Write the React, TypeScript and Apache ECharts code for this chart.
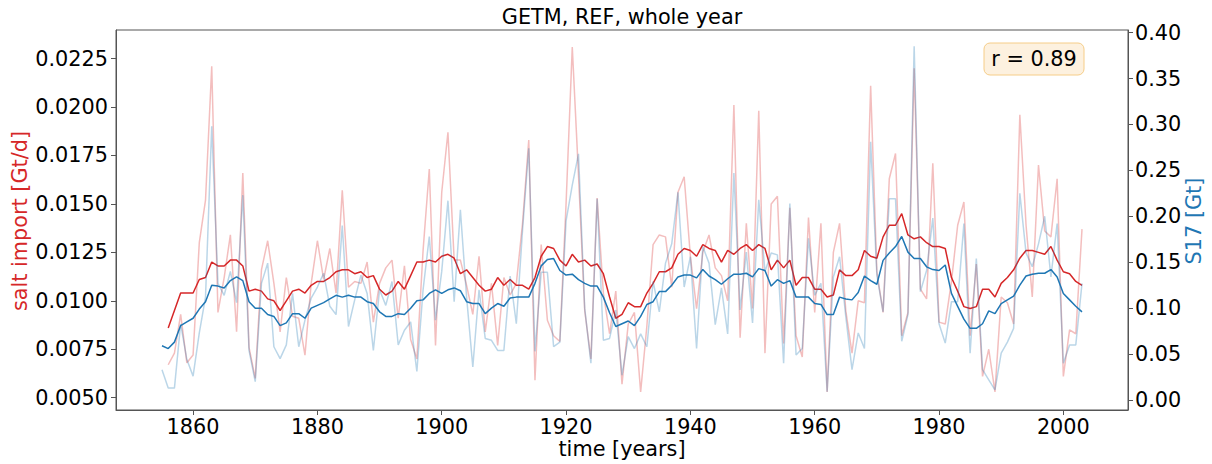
import React, { useEffect, useRef } from "react";
import * as echarts from "echarts";

const START_YEAR = 1855;

// annual salt import [Gt/d] (left axis), starts 1856
const saltImportAnnual: (number | null)[] = [
  null, 0.0067, 0.0073, 0.0093, 0.0068, 0.0072, 0.0130, 0.0152, 0.0221, 0.0094,
  0.0112, 0.0134, 0.0084, 0.0166, 0.0076, 0.0060, 0.0116, 0.0131, 0.0109, 0.0084,
  0.0112, 0.0092, 0.0091, 0.0072, 0.0109, 0.0131, 0.0111, 0.0127, 0.0104, 0.0157,
  0.0107, 0.0110, 0.0109, 0.0120, 0.0089, 0.0109, 0.0117, 0.0121, 0.0091, 0.0118,
  0.0080, 0.0070, 0.0126, 0.0168, 0.0077, 0.0156, 0.0187, 0.0121, 0.0121, 0.0108,
  0.0093, 0.0123, 0.0084, 0.0109, 0.0077, 0.0112, 0.0103, 0.0109, 0.0140, 0.0183,
  0.0059, 0.0129, 0.0090, 0.0082, 0.0079, 0.0150, 0.0231, 0.0165, 0.0095, 0.0070,
  0.0153, 0.0104, 0.0083, 0.0105, 0.0057, 0.0088, 0.0094, 0.0053, 0.0087, 0.0129,
  0.0134, 0.0133, 0.0107, 0.0156, 0.0164, 0.0123, 0.0096, 0.0125, 0.0134, 0.0117,
  0.0113, 0.0100, 0.0201, 0.0081, 0.0140, 0.0096, 0.0198, 0.0073, 0.0150, 0.0154,
  0.0078, 0.0148, 0.0082, 0.0071, 0.0143, 0.0094, 0.0140, 0.0053, 0.0125, 0.0140,
  0.0095, 0.0073, 0.0100, 0.0099, 0.0211, 0.0115, 0.0094, 0.0163, 0.0176, 0.0082,
  0.0094, 0.0220, 0.0106, 0.0101, 0.0171, 0.0089, 0.0088, 0.0110, 0.0139, 0.0151,
  0.0082, 0.0119, 0.0061, 0.0075, 0.0053, 0.0102, 0.0099, 0.0088, 0.0196, 0.0139,
  0.0102, 0.0170, 0.0136, 0.0133, 0.0163, 0.0061, 0.0085, 0.0083, 0.0137,
];

// smoothed salt import [Gt/d]
const saltImportSmooth: (number | null)[] = [
  null, 0.0086, 0.0095, 0.0104, 0.0104, 0.0104, 0.0111, 0.0112, 0.0120, 0.0118,
  0.0118, 0.0121, 0.0121, 0.0118, 0.0105, 0.0106, 0.0105, 0.0101, 0.0100, 0.0095,
  0.0100, 0.0105, 0.0106, 0.0104, 0.0108, 0.0110, 0.0110, 0.0112, 0.0115, 0.0116,
  0.0116, 0.0114, 0.0115, 0.0112, 0.0113, 0.0106, 0.0103, 0.0105, 0.0110, 0.0106,
  0.0113, 0.0120, 0.0120, 0.0121, 0.0120, 0.0123, 0.0124, 0.0122, 0.0114, 0.0116,
  0.0112, 0.0108, 0.0105, 0.0106, 0.0112, 0.0108, 0.0111, 0.0108, 0.0108, 0.0106,
  0.0112, 0.0123, 0.0128, 0.0127, 0.0121, 0.0118, 0.0124, 0.0120, 0.0121, 0.0118,
  0.0119, 0.0114, 0.0102, 0.0091, 0.0093, 0.0099, 0.0097, 0.0097, 0.0104, 0.0109,
  0.0115, 0.0115, 0.0117, 0.0124, 0.0127, 0.0126, 0.0123, 0.0129, 0.0127, 0.0126,
  0.0120, 0.0126, 0.0124, 0.0127, 0.0129, 0.0126, 0.0129, 0.0127, 0.0116, 0.0121,
  0.0117, 0.0121, 0.0108, 0.0112, 0.0112, 0.0106, 0.0106, 0.0102, 0.0103, 0.0116,
  0.0113, 0.0113, 0.0116, 0.0126, 0.0123, 0.0122, 0.0133, 0.0139, 0.0139, 0.0145,
  0.0134, 0.0132, 0.0133, 0.0130, 0.0128, 0.0128, 0.0127, 0.0112, 0.0105, 0.0097,
  0.0096, 0.0097, 0.0106, 0.0106, 0.0102, 0.0109, 0.0112, 0.0116, 0.0122, 0.0126,
  0.0126, 0.0125, 0.0124, 0.0128, 0.0121, 0.0115, 0.0114, 0.0110, 0.0108,
];

// annual S17 [Gt] (right axis)
const s17Annual: number[] = [
  0.033, 0.013, 0.013, 0.083, 0.044, 0.026, 0.073, 0.112, 0.298, 0.127,
  0.114, 0.140, 0.106, 0.223, 0.054, 0.020, 0.127, 0.149, 0.058, 0.045,
  0.060, 0.116, 0.058, 0.087, 0.111, 0.123, 0.138, 0.102, 0.093, 0.190,
  0.080, 0.109, 0.136, 0.116, 0.054, 0.120, 0.103, 0.129, 0.060, 0.076,
  0.085, 0.031, 0.120, 0.178, 0.087, 0.140, 0.217, 0.107, 0.207, 0.112,
  0.036, 0.120, 0.067, 0.065, 0.054, 0.054, 0.135, 0.083, 0.185, 0.274,
  0.053, 0.139, 0.139, 0.058, 0.063, 0.195, 0.234, 0.268, 0.100, 0.040,
  0.219, 0.065, 0.067, 0.098, 0.027, 0.069, 0.056, 0.072, 0.058, 0.129,
  0.096, 0.149, 0.170, 0.226, 0.123, 0.156, 0.056, 0.167, 0.149, 0.082,
  0.122, 0.072, 0.247, 0.098, 0.161, 0.084, 0.218, 0.140, 0.160, 0.158,
  0.040, 0.214, 0.049, 0.056, 0.176, 0.114, 0.127, 0.009, 0.134, 0.156,
  0.091, 0.033, 0.073, 0.056, 0.281, 0.136, 0.096, 0.219, 0.219, 0.064,
  0.093, 0.385, 0.118, 0.141, 0.198, 0.083, 0.062, 0.107, 0.107, 0.192,
  0.051, 0.154, 0.033, 0.022, 0.011, 0.051, 0.063, 0.078, 0.225, 0.160,
  0.145, 0.170, 0.200, 0.134, 0.192, 0.040, 0.060, 0.060, 0.127,
];

// smoothed S17 [Gt]
const s17Smooth: number[] = [
  0.059, 0.056, 0.063, 0.081, 0.085, 0.089, 0.099, 0.107, 0.125, 0.124,
  0.122, 0.130, 0.134, 0.130, 0.107, 0.100, 0.100, 0.093, 0.091, 0.081,
  0.084, 0.094, 0.094, 0.089, 0.100, 0.103, 0.106, 0.110, 0.114, 0.112,
  0.114, 0.112, 0.112, 0.107, 0.105, 0.096, 0.091, 0.091, 0.094, 0.093,
  0.100, 0.108, 0.109, 0.116, 0.120, 0.116, 0.120, 0.122, 0.119, 0.107,
  0.105, 0.105, 0.094, 0.100, 0.105, 0.102, 0.111, 0.112, 0.112, 0.112,
  0.127, 0.146, 0.153, 0.154, 0.141, 0.136, 0.137, 0.131, 0.127, 0.124,
  0.124, 0.112, 0.095, 0.080, 0.083, 0.086, 0.081, 0.091, 0.104, 0.107,
  0.118, 0.118, 0.125, 0.134, 0.136, 0.136, 0.133, 0.142, 0.135, 0.131,
  0.126, 0.132, 0.137, 0.137, 0.138, 0.134, 0.143, 0.141, 0.124, 0.131,
  0.127, 0.130, 0.112, 0.112, 0.112, 0.105, 0.104, 0.093, 0.093, 0.112,
  0.110, 0.109, 0.117, 0.135, 0.130, 0.126, 0.152, 0.160, 0.167, 0.178,
  0.161, 0.154, 0.154, 0.145, 0.142, 0.141, 0.147, 0.116, 0.102, 0.088,
  0.078, 0.078, 0.083, 0.097, 0.094, 0.105, 0.109, 0.113, 0.125, 0.135,
  0.137, 0.138, 0.138, 0.142, 0.134, 0.116, 0.109, 0.102, 0.096,
];

const xTicks = [1860, 1880, 1900, 1920, 1940, 1960, 1980, 2000];
const leftTicks = [0.005, 0.0075, 0.01, 0.0125, 0.015, 0.0175, 0.02, 0.0225];
const rightTicks = [0, 0.05, 0.1, 0.15, 0.2, 0.25, 0.3, 0.35, 0.4];

const RED = "#d62728";
const BLUE = "#1f77b4";
const FONT = "DejaVu Sans";
const FS = 20.8;
const SPINE = "#555";

const toPairs = (vals: (number | null)[]) =>
  vals
    .map((v, i) => [START_YEAR + i, v] as [number, number | null])
    .filter((p) => p[1] !== null);

export default function App() {
  const ref = useRef<HTMLDivElement>(null);

  useEffect(() => {
    if (!ref.current) return;
    const chart = echarts.init(ref.current, undefined, { renderer: "svg" });

    const axisCommon = {
      axisLine: { show: true, onZero: false, lineStyle: { color: SPINE, width: 1 } },
      splitLine: { show: false },
    };

    const option: any = {
      animation: false,
      backgroundColor: "#ffffff",
      grid: {
        left: 116,
        right: 84,
        top: 30,
        bottom: 54,
        show: true,
        borderColor: SPINE,
        borderWidth: 1,
        backgroundColor: "transparent",
      },
      xAxis: {
        type: "value",
        min: 1847.6,
        max: 2010.4,
        ...axisCommon,
        axisTick: { show: true, length: 5, lineStyle: { color: SPINE }, customValues: xTicks },
        axisLabel: {
          customValues: xTicks,
          fontSize: FS,
          fontFamily: FONT,
          color: "#000",
          margin: 6,
          formatter: (v: number) => String(v),
        },
      },
      yAxis: [
        {
          type: "value",
          position: "left",
          min: 0.004366,
          max: 0.023974,
          ...axisCommon,
          axisTick: { show: true, length: 5, lineStyle: { color: SPINE }, customValues: leftTicks },
          axisLabel: {
            customValues: leftTicks,
            fontSize: FS,
            fontFamily: FONT,
            color: "#000",
            margin: 8,
            formatter: (v: number) => v.toFixed(4),
          },
        },
        {
          type: "value",
          position: "right",
          min: -0.01088,
          max: 0.4028,
          ...axisCommon,
          axisTick: { show: true, length: 5, lineStyle: { color: SPINE }, customValues: rightTicks },
          axisLabel: {
            customValues: rightTicks,
            fontSize: FS,
            fontFamily: FONT,
            color: "#000",
            margin: 7,
            formatter: (v: number) => v.toFixed(2),
          },
        },
      ],
      series: [
        {
          name: "salt import annual",
          type: "line",
          yAxisIndex: 0,
          data: toPairs(saltImportAnnual),
          showSymbol: false,
          lineStyle: { color: RED, width: 1.5, opacity: 0.3 },
          itemStyle: { color: RED },
          z: 2,
        },
        {
          name: "salt import smooth",
          type: "line",
          yAxisIndex: 0,
          data: toPairs(saltImportSmooth),
          showSymbol: false,
          lineStyle: { color: RED, width: 1.5 },
          itemStyle: { color: RED },
          z: 3,
        },
        {
          name: "S17 annual",
          type: "line",
          yAxisIndex: 1,
          data: toPairs(s17Annual),
          showSymbol: false,
          lineStyle: { color: BLUE, width: 1.5, opacity: 0.3 },
          itemStyle: { color: BLUE },
          z: 4,
        },
        {
          name: "S17 smooth",
          type: "line",
          yAxisIndex: 1,
          data: toPairs(s17Smooth),
          showSymbol: false,
          lineStyle: { color: BLUE, width: 1.5 },
          itemStyle: { color: BLUE },
          z: 5,
        },
      ],
      graphic: [
        {
          type: "text",
          x: 622,
          y: 17,
          style: {
            text: "GETM, REF, whole year",
            fontSize: FS,
            fontFamily: FONT,
            fill: "#000",
            align: "center",
            verticalAlign: "middle",
            textAlign: "center",
            textVerticalAlign: "middle",
          },
        },
        {
          type: "text",
          x: 622,
          y: 449,
          style: {
            text: "time [years]",
            fontSize: FS,
            fontFamily: FONT,
            fill: "#000",
            align: "center",
            verticalAlign: "middle",
            textAlign: "center",
            textVerticalAlign: "middle",
          },
        },
        {
          type: "text",
          x: 20,
          y: 221,
          rotation: Math.PI / 2,
          style: {
            text: "salt import [Gt/d]",
            fontSize: FS,
            fontFamily: FONT,
            fill: RED,
            align: "center",
            verticalAlign: "middle",
            textAlign: "center",
            textVerticalAlign: "middle",
          },
        },
        {
          type: "text",
          x: 1194,
          y: 221,
          rotation: Math.PI / 2,
          style: {
            text: "S17 [Gt]",
            fontSize: FS,
            fontFamily: FONT,
            fill: BLUE,
            align: "center",
            verticalAlign: "middle",
            textAlign: "center",
            textVerticalAlign: "middle",
          },
        },
        {
          type: "rect",
          z: 10,
          shape: { x: 984, y: 43, width: 100, height: 32, r: 6 },
          style: { fill: "#fdf1df", stroke: "#f6cd88", lineWidth: 1 },
        },
        {
          type: "text",
          z: 11,
          x: 1034,
          y: 59,
          style: {
            text: "r = 0.89",
            fontSize: FS,
            fontFamily: FONT,
            fill: "#000",
            align: "center",
            verticalAlign: "middle",
            textAlign: "center",
            textVerticalAlign: "middle",
          },
        },
      ],
    };

    chart.setOption(option);
    return () => chart.dispose();
  }, []);

  return (
    <div
      ref={ref}
      style={{ position: "absolute", left: 0, top: 0, width: 1212, height: 464 }}
    />
  );
}
